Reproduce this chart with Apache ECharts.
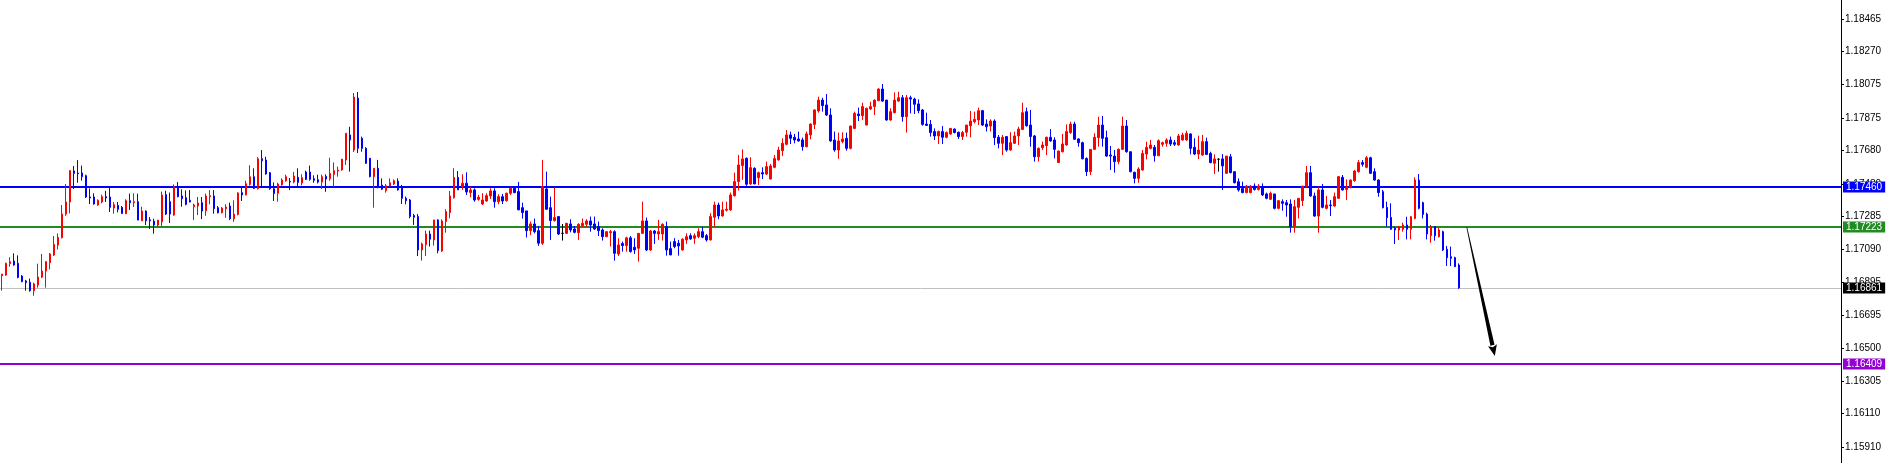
<!DOCTYPE html>
<html><head><meta charset="utf-8">
<script src="https://cdn.jsdelivr.net/npm/echarts@6/dist/echarts.min.js"></script>
<style>html,body{margin:0;padding:0;background:#fff;overflow:hidden}#c{width:1888px;height:463px}</style>
</head><body><div id="c"></div>
<script>
const opens = [
1.16933,1.16937,1.17005,1.17021,1.17007,1.16931,1.16902,1.16894,1.16844,1.16878,
1.16925,1.16961,1.17011,1.17057,1.17116,1.17160,1.17301,1.17373,1.17558,1.17546,
1.17546,1.17530,1.17403,1.17403,1.17355,1.17373,1.17405,1.17403,1.17337,1.17353,
1.17341,1.17303,1.17381,1.17369,1.17375,1.17261,1.17319,1.17267,1.17259,1.17236,
1.17255,1.17417,1.17375,1.17295,1.17464,1.17409,1.17399,1.17383,1.17345,1.17349,
1.17369,1.17321,1.17405,1.17409,1.17339,1.17309,1.17333,1.17349,1.17273,1.17299,
1.17429,1.17415,1.17478,1.17524,1.17452,1.17631,1.17623,1.17548,1.17452,1.17425,
1.17476,1.17500,1.17496,1.17492,1.17520,1.17486,1.17552,1.17552,1.17512,1.17506,
1.17492,1.17526,1.17512,1.17538,1.17558,1.17564,1.17624,1.17773,1.17683,1.17993,
1.17753,1.17693,1.17634,1.17524,1.17574,1.17474,1.17441,1.17469,1.17480,1.17498,
1.17465,1.17395,1.17385,1.17292,1.17286,1.17087,1.17119,1.17182,1.17147,1.17266,
1.17081,1.17256,1.17310,1.17399,1.17520,1.17465,1.17485,1.17429,1.17445,1.17389,
1.17361,1.17379,1.17409,1.17439,1.17375,1.17405,1.17381,1.17425,1.17455,1.17435,
1.17339,1.17320,1.17202,1.17242,1.17202,1.17127,1.17451,1.17339,1.17262,1.17286,
1.17186,1.17186,1.17242,1.17212,1.17190,1.17232,1.17240,1.17260,1.17242,1.17226,
1.17206,1.17166,1.17190,1.17196,1.17063,1.17125,1.17113,1.17159,1.17103,1.17097,
1.17186,1.17260,1.17087,1.17200,1.17182,1.17182,1.17226,1.17095,1.17137,1.17127,
1.17087,1.17147,1.17172,1.17157,1.17166,1.17196,1.17172,1.17147,1.17282,1.17355,
1.17290,1.17324,1.17326,1.17411,1.17495,1.17590,1.17634,1.17481,1.17574,1.17518,
1.17548,1.17540,1.17510,1.17580,1.17624,1.17679,1.17717,1.17773,1.17759,1.17749,
1.17743,1.17703,1.17773,1.17836,1.17916,1.17981,1.17952,1.17892,1.17743,1.17683,
1.17733,1.17753,1.17693,1.17812,1.17898,1.17888,1.17832,1.17928,1.17942,1.17977,
1.18047,1.17981,1.17862,1.17906,1.17975,1.17995,1.17882,1.17995,1.17987,1.17958,
1.17922,1.17838,1.17836,1.17793,1.17767,1.17793,1.17759,1.17779,1.17808,1.17789,
1.17763,1.17789,1.17828,1.17852,1.17862,1.17918,1.17838,1.17826,1.17856,1.17759,
1.17723,1.17763,1.17683,1.17723,1.17767,1.17806,1.17912,1.17832,1.17767,1.17643,
1.17697,1.17709,1.17759,1.17743,1.17608,1.17673,1.17713,1.17787,1.17838,1.17749,
1.17727,1.17633,1.17554,1.17687,1.17757,1.17832,1.17757,1.17653,1.17647,1.17614,
1.17687,1.17826,1.17673,1.17550,1.17514,1.17564,1.17659,1.17693,1.17699,1.17649,
1.17717,1.17723,1.17743,1.17727,1.17713,1.17743,1.17743,1.17779,1.17699,1.17659,
1.17653,1.17733,1.17663,1.17604,1.17628,1.17630,1.17544,1.17643,1.17554,1.17494,
1.17454,1.17429,1.17429,1.17468,1.17448,1.17464,1.17421,1.17389,1.17421,1.17335,
1.17375,1.17369,1.17361,1.17230,1.17341,1.17381,1.17464,1.17548,1.17409,1.17289,
1.17445,1.17335,1.17355,1.17349,1.17395,1.17520,1.17448,1.17460,1.17500,1.17554,
1.17608,1.17580,1.17637,1.17554,1.17504,1.17435,1.17341,1.17281,1.17216,1.17206,
1.17210,1.17236,1.17210,1.17275,1.17504,1.17369,1.17301,1.17172,1.17226,1.17166,
1.17196,1.17091,1.17047,1.17041,1.16997
];
const closes = [
1.16943,1.17007,1.17017,1.16997,1.16923,1.16898,1.16892,1.16844,1.16884,1.16925,
1.16961,1.17017,1.17063,1.17120,1.17162,1.17301,1.17373,1.17560,1.17544,1.17542,
1.17524,1.17403,1.17397,1.17361,1.17383,1.17405,1.17397,1.17341,1.17357,1.17329,
1.17305,1.17381,1.17369,1.17375,1.17265,1.17319,1.17261,1.17261,1.17236,1.17265,
1.17415,1.17301,1.17301,1.17464,1.17405,1.17393,1.17359,1.17373,1.17355,1.17367,
1.17319,1.17409,1.17411,1.17333,1.17309,1.17337,1.17343,1.17273,1.17301,1.17427,
1.17415,1.17482,1.17524,1.17454,1.17631,1.17619,1.17540,1.17452,1.17423,1.17480,
1.17504,1.17524,1.17492,1.17528,1.17490,1.17518,1.17508,1.17508,1.17502,1.17492,
1.17524,1.17510,1.17544,1.17560,1.17564,1.17629,1.17783,1.17743,1.17999,1.17693,
1.17693,1.17604,1.17524,1.17574,1.17461,1.17449,1.17469,1.17488,1.17500,1.17445,
1.17395,1.17381,1.17286,1.17282,1.17087,1.17123,1.17182,1.17151,1.17266,1.17083,
1.17260,1.17316,1.17409,1.17520,1.17445,1.17485,1.17433,1.17445,1.17385,1.17401,
1.17385,1.17411,1.17439,1.17375,1.17405,1.17379,1.17425,1.17455,1.17429,1.17326,
1.17310,1.17202,1.17242,1.17196,1.17127,1.17465,1.17330,1.17262,1.17280,1.17182,
1.17186,1.17246,1.17206,1.17192,1.17240,1.17246,1.17260,1.17236,1.17212,1.17202,
1.17166,1.17196,1.17196,1.17067,1.17117,1.17113,1.17159,1.17077,1.17087,1.17186,
1.17260,1.17087,1.17200,1.17186,1.17196,1.17240,1.17087,1.17057,1.17107,1.17111,
1.17151,1.17166,1.17153,1.17172,1.17196,1.17163,1.17147,1.17286,1.17355,1.17290,
1.17326,1.17330,1.17415,1.17495,1.17594,1.17630,1.17479,1.17578,1.17481,1.17548,
1.17540,1.17584,1.17588,1.17632,1.17683,1.17723,1.17773,1.17753,1.17743,1.17737,
1.17703,1.17779,1.17838,1.17922,1.17981,1.17948,1.17892,1.17737,1.17683,1.17737,
1.17749,1.17693,1.17826,1.17902,1.17888,1.17942,1.17932,1.17942,1.17981,1.18047,
1.17975,1.17862,1.17912,1.17981,1.17995,1.17882,1.17995,1.17987,1.17956,1.17918,
1.17836,1.17830,1.17787,1.17767,1.17793,1.17759,1.17787,1.17812,1.17787,1.17763,
1.17787,1.17832,1.17856,1.17866,1.17918,1.17832,1.17822,1.17856,1.17757,1.17723,
1.17759,1.17683,1.17727,1.17767,1.17808,1.17906,1.17828,1.17763,1.17643,1.17693,
1.17713,1.17759,1.17737,1.17687,1.17677,1.17719,1.17793,1.17838,1.17747,1.17727,
1.17631,1.17554,1.17687,1.17759,1.17832,1.17753,1.17647,1.17647,1.17614,1.17687,
1.17826,1.17673,1.17554,1.17514,1.17570,1.17663,1.17699,1.17713,1.17649,1.17739,
1.17727,1.17743,1.17719,1.17717,1.17767,1.17773,1.17783,1.17693,1.17659,1.17683,
1.17733,1.17657,1.17608,1.17630,1.17628,1.17588,1.17647,1.17548,1.17488,1.17445,
1.17429,1.17468,1.17468,1.17448,1.17468,1.17415,1.17395,1.17425,1.17335,1.17381,
1.17365,1.17355,1.17226,1.17345,1.17395,1.17468,1.17548,1.17409,1.17289,1.17445,
1.17341,1.17355,1.17351,1.17405,1.17524,1.17445,1.17464,1.17504,1.17558,1.17608,
1.17598,1.17637,1.17544,1.17504,1.17429,1.17339,1.17279,1.17210,1.17206,1.17222,
1.17236,1.17210,1.17285,1.17504,1.17335,1.17299,1.17182,1.17226,1.17172,1.17206,
1.17087,1.17041,1.17037,1.16987,1.16861
];
const highs = [
1.16943,1.17011,1.17043,1.17067,1.17055,1.16937,1.16908,1.16916,1.16892,1.17005,
1.17063,1.17021,1.17069,1.17170,1.17186,1.17355,1.17480,1.17564,1.17588,1.17623,
1.17590,1.17536,1.17454,1.17425,1.17389,1.17417,1.17440,1.17464,1.17373,1.17373,
1.17349,1.17389,1.17423,1.17425,1.17423,1.17345,1.17323,1.17283,1.17273,1.17265,
1.17435,1.17440,1.17429,1.17478,1.17492,1.17448,1.17442,1.17444,1.17363,1.17403,
1.17403,1.17423,1.17444,1.17444,1.17349,1.17343,1.17359,1.17369,1.17383,1.17431,
1.17460,1.17500,1.17592,1.17574,1.17641,1.17683,1.17643,1.17552,1.17490,1.17488,
1.17514,1.17536,1.17516,1.17552,1.17574,1.17538,1.17560,1.17590,1.17532,1.17536,
1.17536,1.17538,1.17637,1.17609,1.17584,1.17629,1.17783,1.17822,1.18023,1.18029,
1.17763,1.17700,1.17634,1.17574,1.17624,1.17514,1.17480,1.17514,1.17508,1.17514,
1.17475,1.17405,1.17391,1.17302,1.17302,1.17131,1.17202,1.17202,1.17266,1.17270,
1.17270,1.17330,1.17439,1.17574,1.17558,1.17538,1.17550,1.17465,1.17455,1.17415,
1.17425,1.17425,1.17455,1.17455,1.17419,1.17421,1.17429,1.17461,1.17465,1.17493,
1.17369,1.17320,1.17256,1.17274,1.17230,1.17624,1.17554,1.17405,1.17461,1.17286,
1.17242,1.17246,1.17270,1.17230,1.17246,1.17274,1.17270,1.17286,1.17286,1.17256,
1.17216,1.17200,1.17206,1.17204,1.17157,1.17137,1.17166,1.17170,1.17157,1.17186,
1.17375,1.17280,1.17206,1.17206,1.17266,1.17246,1.17256,1.17137,1.17157,1.17147,
1.17157,1.17186,1.17186,1.17186,1.17216,1.17226,1.17182,1.17306,1.17375,1.17369,
1.17375,1.17375,1.17429,1.17548,1.17654,1.17687,1.17638,1.17640,1.17580,1.17554,
1.17580,1.17614,1.17600,1.17654,1.17703,1.17753,1.17802,1.17793,1.17779,1.17793,
1.17757,1.17793,1.17842,1.17926,1.18001,1.17995,1.18017,1.17932,1.17793,1.17787,
1.17789,1.17787,1.17828,1.17912,1.17936,1.17965,1.17936,1.17971,1.17985,1.18051,
1.18077,1.17981,1.17932,1.18027,1.18031,1.18011,1.18011,1.18007,1.17995,1.17985,
1.17928,1.17906,1.17862,1.17812,1.17799,1.17826,1.17793,1.17812,1.17812,1.17793,
1.17797,1.17832,1.17916,1.17912,1.17936,1.17922,1.17866,1.17866,1.17866,1.17773,
1.17773,1.17767,1.17789,1.17793,1.17822,1.17965,1.17936,1.17922,1.17773,1.17699,
1.17733,1.17763,1.17808,1.17759,1.17679,1.17779,1.17836,1.17852,1.17852,1.17753,
1.17733,1.17639,1.17689,1.17783,1.17882,1.17886,1.17799,1.17707,1.17683,1.17693,
1.17882,1.17862,1.17673,1.17554,1.17580,1.17683,1.17733,1.17743,1.17713,1.17747,
1.17733,1.17753,1.17763,1.17743,1.17779,1.17786,1.17798,1.17783,1.17753,1.17769,
1.17773,1.17757,1.17673,1.17657,1.17634,1.17659,1.17647,1.17659,1.17554,1.17514,
1.17494,1.17474,1.17474,1.17484,1.17480,1.17484,1.17429,1.17435,1.17421,1.17385,
1.17389,1.17385,1.17389,1.17385,1.17395,1.17468,1.17588,1.17588,1.17429,1.17464,
1.17480,1.17409,1.17385,1.17429,1.17528,1.17534,1.17508,1.17508,1.17564,1.17623,
1.17623,1.17647,1.17643,1.17574,1.17508,1.17445,1.17375,1.17365,1.17226,1.17230,
1.17250,1.17285,1.17289,1.17520,1.17540,1.17375,1.17309,1.17236,1.17230,1.17222,
1.17202,1.17111,1.17107,1.17047,1.17007
];
const lows = [
1.16844,1.16933,1.16987,1.16993,1.16918,1.16894,1.16844,1.16838,1.16814,1.16862,
1.16919,1.16862,1.16971,1.17051,1.17090,1.17156,1.17291,1.17305,1.17450,1.17488,
1.17500,1.17397,1.17361,1.17357,1.17351,1.17365,1.17373,1.17313,1.17303,1.17311,
1.17301,1.17301,1.17325,1.17343,1.17265,1.17259,1.17236,1.17212,1.17184,1.17226,
1.17230,1.17295,1.17248,1.17291,1.17401,1.17345,1.17353,1.17371,1.17265,1.17295,
1.17271,1.17291,1.17359,1.17303,1.17305,1.17305,1.17279,1.17265,1.17255,1.17293,
1.17379,1.17413,1.17470,1.17450,1.17448,1.17460,1.17536,1.17446,1.17379,1.17375,
1.17470,1.17494,1.17444,1.17484,1.17468,1.17472,1.17504,1.17500,1.17488,1.17484,
1.17450,1.17434,1.17500,1.17464,1.17524,1.17560,1.17594,1.17554,1.17671,1.17665,
1.17673,1.17600,1.17520,1.17339,1.17455,1.17445,1.17429,1.17464,1.17474,1.17441,
1.17361,1.17359,1.17276,1.17236,1.17051,1.17023,1.17051,1.17107,1.17113,1.17067,
1.17075,1.17190,1.17276,1.17393,1.17445,1.17445,1.17415,1.17401,1.17375,1.17381,
1.17355,1.17375,1.17391,1.17339,1.17359,1.17361,1.17375,1.17415,1.17425,1.17326,
1.17274,1.17161,1.17176,1.17186,1.17111,1.17117,1.17326,1.17147,1.17256,1.17176,
1.17143,1.17182,1.17192,1.17186,1.17147,1.17222,1.17226,1.17196,1.17206,1.17170,
1.17143,1.17164,1.17107,1.17023,1.17051,1.17077,1.17077,1.17071,1.17063,1.17017,
1.17182,1.17081,1.17081,1.17123,1.17147,1.17143,1.17053,1.17057,1.17097,1.17053,
1.17083,1.17123,1.17147,1.17123,1.17157,1.17157,1.17137,1.17143,1.17226,1.17270,
1.17286,1.17316,1.17320,1.17405,1.17441,1.17505,1.17469,1.17475,1.17479,1.17475,
1.17510,1.17534,1.17508,1.17574,1.17620,1.17647,1.17711,1.17719,1.17723,1.17733,
1.17679,1.17699,1.17747,1.17808,1.17906,1.17912,1.17886,1.17733,1.17673,1.17631,
1.17723,1.17679,1.17687,1.17808,1.17856,1.17862,1.17832,1.17922,1.17892,1.17975,
1.17971,1.17858,1.17858,1.17902,1.17971,1.17852,1.17787,1.17902,1.17898,1.17902,
1.17828,1.17826,1.17763,1.17743,1.17719,1.17719,1.17753,1.17773,1.17783,1.17749,
1.17743,1.17763,1.17759,1.17842,1.17832,1.17826,1.17793,1.17793,1.17713,1.17693,
1.17653,1.17673,1.17679,1.17719,1.17713,1.17802,1.17822,1.17703,1.17614,1.17614,
1.17683,1.17653,1.17733,1.17633,1.17608,1.17669,1.17709,1.17779,1.17743,1.17703,
1.17627,1.17528,1.17534,1.17683,1.17703,1.17703,1.17643,1.17564,1.17548,1.17598,
1.17683,1.17667,1.17550,1.17484,1.17488,1.17560,1.17627,1.17687,1.17614,1.17647,
1.17703,1.17703,1.17707,1.17707,1.17709,1.17739,1.17739,1.17657,1.17653,1.17629,
1.17649,1.17653,1.17604,1.17540,1.17554,1.17445,1.17540,1.17544,1.17484,1.17435,
1.17425,1.17425,1.17425,1.17441,1.17441,1.17409,1.17389,1.17385,1.17329,1.17329,
1.17321,1.17285,1.17190,1.17190,1.17275,1.17349,1.17460,1.17405,1.17285,1.17190,
1.17335,1.17329,1.17289,1.17345,1.17391,1.17441,1.17385,1.17454,1.17494,1.17548,
1.17584,1.17574,1.17540,1.17500,1.17405,1.17335,1.17226,1.17206,1.17122,1.17146,
1.17196,1.17150,1.17150,1.17270,1.17329,1.17275,1.17150,1.17130,1.17142,1.17162,
1.17081,1.16991,1.16991,1.16987,1.16855
];
const tickLabels = ['1.15910','1.16110','1.16305','1.16500','1.16695','1.16895','1.17090','1.17285','1.17480','1.17680','1.17875','1.18075','1.18270','1.18465'];
const levelValues = [1.17460, 1.17223, 1.16861, 1.16409];
const arrowFrom = [366, 1.17222];
const arrowTo = [373, 1.16454];

const slotCount = 460;
const yMin = 1.15816, yMax = 1.18578;
const levelLineColors = ['#0000ff', '#228b22', '#c0c0c0', '#9400d3'];
const levelLineWidths = [2, 2, 1, 2];
const levelLabelBg = ['#0000ff', '#228b22', '#000000', '#9400d3'];
const FONT = 'Liberation Sans, Arial, sans-serif';
const FONT_SIZE = 10;

const categories = Array.from({length: slotCount}, (_, i) => String(i));
const candleData = opens.map((o, i) => {
  const item = {value: [o, closes[i], lows[i], highs[i]]};
  if (o === closes[i]) item.itemStyle = {color: '#000000', borderColor: '#000000', color0: '#000000', borderColor0: '#000000'};
  return item;
});
const tickValues = tickLabels.map(Number);
const levelData = levelValues.map((v, i) => [i, v]);

const chart = echarts.init(document.getElementById('c'), null, {renderer: 'canvas'});
chart.setOption({
  animation: false,
  backgroundColor: '#ffffff',
  grid: {left: 0, right: 47, top: 0, bottom: 0, containLabel: false, outerBoundsMode: 'none'},
  xAxis: {type: 'category', data: categories, boundaryGap: true, show: false},
  yAxis: {
    type: 'value', position: 'right', min: yMin, max: yMax, scale: true,
    axisLine: {show: true, lineStyle: {color: '#000000', width: 1}},
    axisTick: {show: true, length: 3, inside: false, lineStyle: {color: '#000000'}, customValues: tickValues},
    axisLabel: {show: true, customValues: tickValues, margin: 4, color: '#000000', fontSize: FONT_SIZE, fontFamily: FONT,
      formatter: v => Number(v).toFixed(5)},
    splitLine: {show: false}
  },
  series: [
    {
      type: 'custom', silent: true, z: 1, clip: false,
      data: levelData,
      encode: {x: 0, y: 1},
      renderItem: (params, api) => {
        const i = api.value(0);
        const p = api.coord([0, api.value(1)]);
        const cs = params.coordSys;
        const w = levelLineWidths[i];
        const y = w % 2 === 1 ? Math.round(p[1]) + 0.5 : Math.round(p[1]);
        return {type: 'line', shape: {x1: cs.x, y1: y, x2: cs.x + cs.width, y2: y},
          style: {stroke: levelLineColors[i], lineWidth: w}};
      }
    },
    {
      type: 'candlestick', z: 2,
      data: candleData,
      barWidth: 2,
      itemStyle: {color: '#ff0000', color0: '#0000ff', borderColor: '#ff0000', borderColor0: '#0000ff', borderColorDoji: '#000000', borderWidth: 1}
    },
    {
      type: 'custom', silent: true, z: 10, clip: false,
      data: levelData,
      encode: {x: 0, y: 1},
      renderItem: (params, api) => {
        const i = api.value(0);
        const v = api.value(1);
        const p = api.coord([0, v]);
        const cs = params.coordSys;
        return {type: 'text', x: cs.x + cs.width + 2, y: Math.round(p[1]),
          style: {text: v.toFixed(5), fill: '#ffffff', backgroundColor: levelLabelBg[i],
            font: FONT_SIZE + 'px ' + FONT, verticalAlign: 'middle', align: 'left',
            padding: [1, 3, 0, 3], lineHeight: 10}};
      }
    },
    {
      type: 'custom', silent: true, z: 11, clip: false,
      data: [[arrowFrom[0], arrowFrom[1], arrowTo[0], arrowTo[1]]],
      encode: {x: [0, 2], y: [1, 3]},
      renderItem: (params, api) => {
        const p0 = api.coord([api.value(0), api.value(1)]);
        const p1 = api.coord([api.value(2), api.value(3)]);
        const dx = p1[0] - p0[0], dy = p1[1] - p0[1];
        const len = Math.sqrt(dx * dx + dy * dy);
        const ux = dx / len, uy = dy / len;
        const nx = -uy, ny = ux;
        const headLen = 11, headHalf = 4.5, w0 = 0.35, w1 = 2.1;
        const b = [p1[0] - ux * headLen, p1[1] - uy * headLen];
        const shaft = [
          [p0[0] + nx * w0, p0[1] + ny * w0],
          [b[0] + nx * w1, b[1] + ny * w1],
          [b[0] - nx * w1, b[1] - ny * w1],
          [p0[0] - nx * w0, p0[1] - ny * w0]
        ];
        const head = [
          [p1[0], p1[1]],
          [b[0] + nx * headHalf, b[1] + ny * headHalf],
          [b[0] + ux * 2, b[1] + uy * 2],
          [b[0] - nx * headHalf, b[1] - ny * headHalf]
        ];
        return {type: 'group', children: [
          {type: 'polygon', shape: {points: shaft}, style: {fill: '#000000'}},
          {type: 'polygon', shape: {points: head}, style: {fill: '#000000'}}
        ]};
      }
    }
  ]
});
</script>
</body></html>
